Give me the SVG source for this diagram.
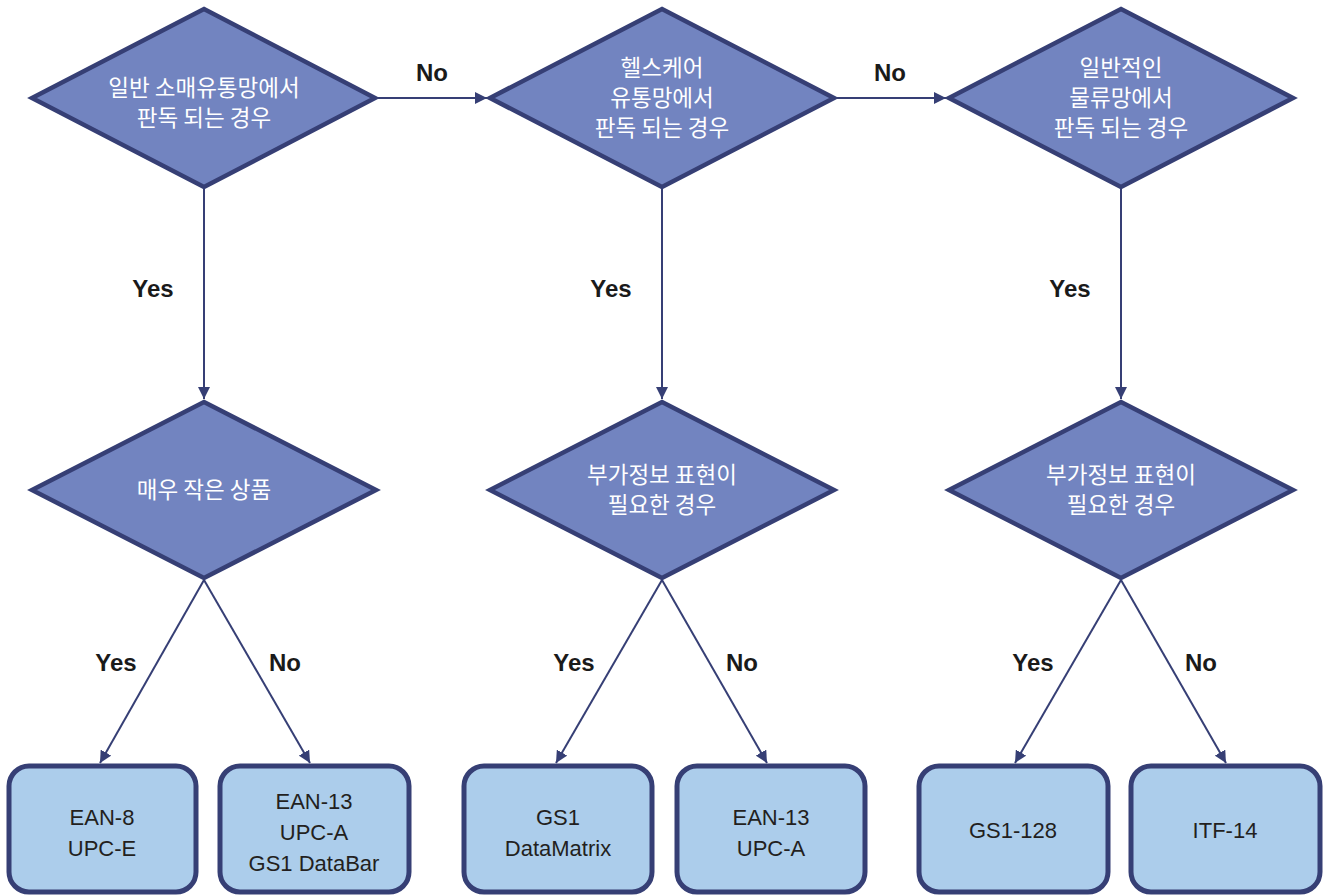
<svg xmlns="http://www.w3.org/2000/svg" width="1325" height="896" viewBox="0 0 1325 896">
<defs>
<marker id="ah" viewBox="0 0 10 10" refX="10" refY="5" markerWidth="12" markerHeight="12" markerUnits="userSpaceOnUse" orient="auto">
<path d="M0,0 L10,5 L0,10 z" fill="#363F75"/>
</marker>
<style>
.dia{fill:#7284C0;stroke:#363F75;stroke-width:4.5;stroke-linejoin:miter}
.box{fill:#ACCDEB;stroke:#363F75;stroke-width:5}
.con{stroke:#363F75;stroke-width:2;fill:none;marker-end:url(#ah)}
.dt{font-family:"Noto Sans CJK KR","Noto Sans",sans-serif;font-size:22.5px;fill:#ffffff;text-anchor:middle}
.bt{font-family:"Liberation Sans","Noto Sans CJK KR",sans-serif;font-size:22px;fill:#231f20;text-anchor:middle}
.lb{font-family:"Liberation Sans",Arial,sans-serif;font-size:24px;font-weight:bold;fill:#1a1a1a;text-anchor:middle}
</style>
</defs>
<rect width="1325" height="896" fill="#ffffff"/>

<g id="connectors">
<path class="con" d="M375,98 H487"/>
<path class="con" d="M835,98 H946"/>
<path class="con" d="M204,187 V399"/>
<path class="con" d="M662,187 V399"/>
<path class="con" d="M1121,187 V399"/>
<path class="con" d="M204,580 L100,763"/>
<path class="con" d="M204,580 L310,763"/>
<path class="con" d="M662,580 L556,763"/>
<path class="con" d="M662,580 L767,763"/>
<path class="con" d="M1121,580 L1015,763"/>
<path class="con" d="M1121,580 L1226,763"/>
<text class="lb" x="432" y="81">No</text>
<text class="lb" x="890" y="81">No</text>
<text class="lb" x="153" y="297">Yes</text>
<text class="lb" x="611" y="297">Yes</text>
<text class="lb" x="1070" y="297">Yes</text>
<text class="lb" x="116" y="671">Yes</text>
<text class="lb" x="285" y="671">No</text>
<text class="lb" x="574" y="671">Yes</text>
<text class="lb" x="742" y="671">No</text>
<text class="lb" x="1033" y="671">Yes</text>
<text class="lb" x="1201" y="671">No</text>
</g>

<g id="d1">
<polygon class="dia" points="204,9 375,98 204,187 32,98"/>
<text class="dt" x="204" y="96">일반 소매유통망에서</text>
<text class="dt" x="204" y="126">판독 되는 경우</text>
</g>
<g id="d2">
<polygon class="dia" points="662,9 834,98 662,187 490,98"/>
<text class="dt" x="662" y="76">헬스케어</text>
<text class="dt" x="662" y="106">유통망에서</text>
<text class="dt" x="662" y="136">판독 되는 경우</text>
</g>
<g id="d3">
<polygon class="dia" points="1121,9 1293,98 1121,187 949,98"/>
<text class="dt" x="1121" y="76">일반적인</text>
<text class="dt" x="1121" y="106">물류망에서</text>
<text class="dt" x="1121" y="136">판독 되는 경우</text>
</g>
<g id="d4">
<polygon class="dia" points="204,402 376,490 204,578 32,490"/>
<text class="dt" x="204" y="498">매우 작은 상품</text>
</g>
<g id="d5">
<polygon class="dia" points="662,402 834,490 662,578 490,490"/>
<text class="dt" x="662" y="483">부가정보 표현이</text>
<text class="dt" x="662" y="513">필요한 경우</text>
</g>
<g id="d6">
<polygon class="dia" points="1121,402 1293,490 1121,578 949,490"/>
<text class="dt" x="1121" y="483">부가정보 표현이</text>
<text class="dt" x="1121" y="513">필요한 경우</text>
</g>

<g id="b1">
<rect class="box" x="9" y="766" width="187" height="126" rx="20"/>
<text class="bt" x="102" y="825">EAN-8</text>
<text class="bt" x="102" y="856">UPC-E</text>
</g>
<g id="b2">
<rect class="box" x="220" y="766" width="189" height="126" rx="20"/>
<text class="bt" x="314" y="809">EAN-13</text>
<text class="bt" x="314" y="840">UPC-A</text>
<text class="bt" x="314" y="871">GS1 DataBar</text>
</g>
<g id="b3">
<rect class="box" x="464" y="766" width="188" height="126" rx="20"/>
<text class="bt" x="558" y="825">GS1</text>
<text class="bt" x="558" y="856">DataMatrix</text>
</g>
<g id="b4">
<rect class="box" x="677" y="766" width="188" height="126" rx="20"/>
<text class="bt" x="771" y="825">EAN-13</text>
<text class="bt" x="771" y="856">UPC-A</text>
</g>
<g id="b5">
<rect class="box" x="919" y="766" width="189" height="126" rx="20"/>
<text class="bt" x="1013" y="838">GS1-128</text>
</g>
<g id="b6">
<rect class="box" x="1131" y="766" width="189" height="126" rx="20"/>
<text class="bt" x="1225" y="838">ITF-14</text>
</g>
</svg>
